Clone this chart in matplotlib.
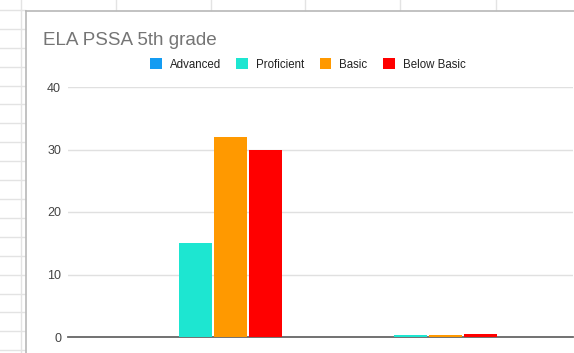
import matplotlib.pyplot as plt
from matplotlib.lines import Line2D
import numpy as np

plt.rcParams['font.family'] = ['Liberation Sans', 'DejaVu Sans']

# data
categories = ['Group 1', 'Group 2']
series_names = ['Advanced', 'Proficient', 'Basic', 'Below Basic']
advanced = [0, 0]
proficient = [15, 0.25]
basic = [32, 0.4]
below_basic = [30, 0.45]
colors = ['#149cf2', '#1de6d1', '#ff9900', '#ff0000']
y_ticks = [0, 10, 20, 30, 40]

W, H = 574, 353
fig = plt.figure(figsize=(W / 100, H / 100), dpi=100)
fig.patch.set_facecolor('white')

# spreadsheet background behind the chart box
def px(x, y):
    return x / W, 1 - y / H

grid_c = '#e3e3e3'
for y in np.arange(10, 354, 18.9):
    x0, y0 = px(0, y)
    x1, _ = px(25, y)
    fig.add_artist(Line2D([x0, x1], [y0, y0], color=grid_c, lw=1))
for x in [21, 116, 211, 305, 400, 496]:
    xa, ya = px(x, 0)
    _, yb = px(x, 10)
    fig.add_artist(Line2D([xa, xa], [ya, yb], color=grid_c, lw=1))
xa, ya = px(21, 10)
_, yb = px(21, 353)
fig.add_artist(Line2D([xa, xa], [ya, yb], color=grid_c, lw=1))
# chart box border
xa, ya = px(25.5, 10.5)
xb, _ = px(574, 10.5)
_, yb = px(25.5, 353)
fig.add_artist(Line2D([xa, xa], [ya, yb], color='#b8b8b8', lw=1.2))
fig.add_artist(Line2D([xa, xb], [ya, ya], color='#b8b8b8', lw=1.2))

ax = fig.add_axes([68 / W, 16 / H, 505 / W, 250 / H])

x = np.arange(len(categories))
pitch = 35 / 214.5
width = 33 / 214.5
values = [advanced, proficient, basic, below_basic]
for i, (name, vals, c) in enumerate(zip(series_names, values, colors)):
    ax.bar(x + (i - 1.5) * pitch, vals, width, color=c, label=name, zorder=5)

ax.set_xlim(-145 / 214.5, 1 + 145.5 / 214.5)
ax.set_ylim(0, 40)
ax.set_yticks(y_ticks)
ax.set_xticks([])
ax.tick_params(axis='y', length=0, pad=5, labelsize=9, labelcolor='#444444')
ax.yaxis.grid(True, color='#e0e0e0', lw=1, zorder=0)
for s in ['top', 'right', 'left']:
    ax.spines[s].set_visible(False)
ax.spines['bottom'].set_color('#666666')
ax.spines['bottom'].set_linewidth(1.3)
ax.spines['bottom'].set_zorder(4)

fig.text(43 / W, 1 - 45 / H, 'ELA PSSA 5th grade', fontsize=13.6, color='#757575',
         ha='left', va='baseline')

leg = ax.legend(loc='center left', bbox_to_anchor=(150 / W, 1 - 64.5 / H),
                bbox_transform=fig.transFigure, ncol=4, frameon=False,
                fontsize=8.3, handlelength=1.0, handleheight=1.0,
                handletextpad=0.7, columnspacing=1.35, borderaxespad=0,
                borderpad=0)
for t in leg.get_texts():
    t.set_color('#222222')

fig.savefig('out.png', dpi=100)
